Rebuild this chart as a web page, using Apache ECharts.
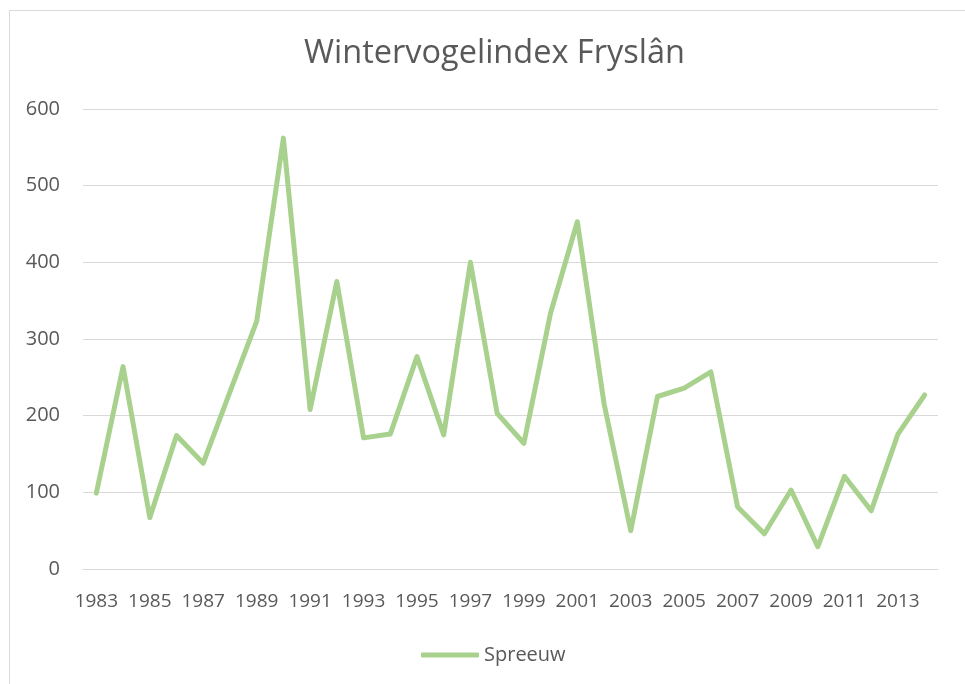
<!DOCTYPE html>
<html>
<head>
<meta charset="utf-8">
<script src="https://cdn.jsdelivr.net/npm/echarts@6/dist/echarts.min.js"></script>
<style>
html,body{margin:0;padding:0;background:#fff;}
#chart{width:965px;height:684px;}
</style>
</head>
<body>
<div id="chart"></div>
<script>
const title = "Wintervogelindex Fryslân";
const seriesName = "Spreeuw";
const years = ["1983","1984","1985","1986","1987","1988","1989","1990","1991","1992","1993","1994","1995","1996","1997","1998","1999","2000","2001","2002","2003","2004","2005","2006","2007","2008","2009","2010","2011","2012","2013","2014"];
const values = [99,264,67,174,138,231,323,562,208,375,171,176,277,175,400,203,164,334,453,216,50,225,236,257,81,46,103,29,121,76,176,227];
const yTicks = {min:0, max:600, interval:100};

const chart = echarts.init(document.getElementById('chart'));
const font = '"Open Sans", sans-serif';
const green = '#a9d18e';
chart.setOption({
  animation:false,
  backgroundColor:'#fff',
  graphic:[{type:'rect',shape:{x:9.5,y:10.5,width:1000,height:1000},style:{fill:'none',stroke:'#d9d9d9',lineWidth:1},silent:true}],
  title:{text:title,left:299,top:32,textStyle:{fontFamily:font,fontSize:32.5,fontWeight:'normal',color:'#595959'}},
  legend:{bottom:14,left:416,itemWidth:58,itemHeight:5,itemGap:4,icon:'roundRect',
    data:[seriesName],
    textStyle:{fontFamily:font,fontSize:20,color:'#595959'}},
  grid:{left:83,right:27,top:109,bottom:115},
  xAxis:{type:'category',data:years,boundaryGap:true,
    axisLine:{show:true,lineStyle:{color:'#d9d9d9',width:1}},axisTick:{show:false},
    axisLabel:{interval:1,margin:23,fontFamily:font,fontSize:19,color:'#595959'}},
  yAxis:{type:'value',min:yTicks.min,max:yTicks.max,interval:yTicks.interval,
    axisLine:{show:false},axisTick:{show:false},
    splitLine:{lineStyle:{color:'#d9d9d9',width:1}},
    axisLabel:{margin:23,fontFamily:font,fontSize:20,color:'#595959'}},
  series:[{name:seriesName,type:'line',data:values,symbol:'none',
    lineStyle:{color:green,width:5,cap:'round',join:'round'},itemStyle:{color:green}}]
});
</script>
</body>
</html>
